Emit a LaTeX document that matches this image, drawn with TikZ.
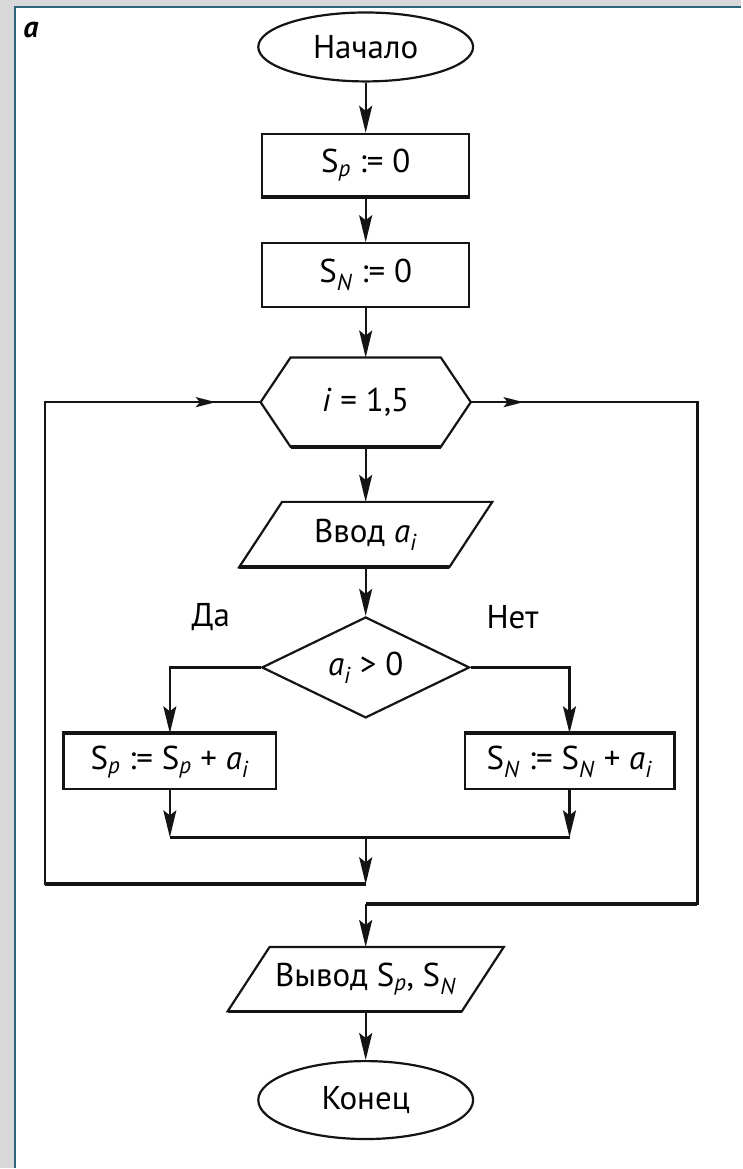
\documentclass[tikz,border=0pt]{standalone}
\usepackage{fontspec}
\setmainfont{PT Sans}
\usetikzlibrary{arrows.meta,shapes.geometric,calc}
\definecolor{ink}{HTML}{141414}
\definecolor{bggray}{HTML}{D9D9D9}
\definecolor{frameline}{HTML}{2F6578}
\newcommand\flowfont{\fontsize{33}{37}\selectfont}
\newcommand\sbs[1]{\textsubscript{\textit{#1}}}
\begin{document}
\begin{tikzpicture}[x=1pt,y=-1pt,
  line/.style={line width=2.2pt, draw=ink},
  heavy/.style={line width=3.6pt, draw=ink},
  arr/.style={line, -{Stealth[length=27pt,width=13pt,inset=5pt]}},
  sarr/.style={line, -{Stealth[length=20pt,width=10pt,inset=4pt]}},
  box/.style={draw=ink, line width=2.2pt, rectangle, inner sep=0pt,
    minimum width=207pt, minimum height=62pt, font=\flowfont},
  term/.style={draw=ink, line width=2.2pt, ellipse, inner sep=0pt,
    minimum width=215pt, minimum height=69pt, font=\flowfont},
  ghost/.style={rectangle, inner sep=0pt, font=\flowfont},
  dia/.style={draw=ink, line width=2.2pt, diamond, aspect=2, inner sep=0pt,
    minimum width=208pt, minimum height=101pt, font=\flowfont},
  lab/.style={font=\flowfont, inner sep=0pt}
]
% frame
\fill[bggray] (0,0) rectangle (742,1169);
\fill[white] (16,8) rectangle (742,1169);
\draw[frameline, line width=2pt] (15,1169) -- (15,7) -- (742,7);
\useasboundingbox (0,0) rectangle (742,1169);

\node[font=\fontsize{30}{32}\selectfont\bfseries\itshape, inner sep=0pt] (tag) at (31,30) {a};

% nodes
\node[term] (start) at (366,47) {Начало};
\node[box] (b1) at (366,165) {S\sbs{p} := 0};
\node[box, minimum height=64pt] (b2) at (366,275.5) {S\sbs{N} := 0};
\node[ghost, minimum width=210pt, minimum height=89pt] (hex) at (366,402.5) {\textit{i} = 1,5};
\node[ghost, minimum width=253pt, minimum height=65pt] (inp) at (366,535) {Ввод \textit{a}\sbs{i}};
\node[dia] (dec) at (366,668) {\textit{a}\sbs{i} > 0};
\node[box, minimum width=213pt, minimum height=55pt] (bp) at (170,762.5) {S\sbs{p} := S\sbs{p} + \textit{a}\sbs{i}};
\node[box, minimum width=210pt, minimum height=55pt] (bn) at (570,762.5) {S\sbs{N} := S\sbs{N} + \textit{a}\sbs{i}};
\node[ghost, minimum width=276pt, minimum height=64pt] (out) at (366,980) {Вывод S\sbs{p}, S\sbs{N}};
\node[term, minimum height=78pt] (end) at (366,1101) {Конец};

% hexagon outline
\draw[line] ($(hex.north west)+(30,0)$) -- ($(hex.north east)+(-30,0)$) -- (hex.east)
  -- ($(hex.south east)+(-30,0)$) -- ($(hex.south west)+(30,0)$) -- (hex.west) -- cycle;
\draw[heavy] ($(hex.south east)+(-30,0)$) -- ($(hex.south west)+(30,0)$);
% parallelograms
\draw[line] ($(inp.north west)+(43,0)$) -- (inp.north east) -- ($(inp.south east)+(-43,0)$)
  -- (inp.south west) -- cycle;
\draw[heavy] ($(inp.south east)+(-43,0)$) -- (inp.south west);
\draw[line] ($(out.north west)+(42,0)$) -- (out.north east) -- ($(out.south east)+(-42,0)$)
  -- (out.south west) -- cycle;
\draw[heavy] ($(out.south east)+(-42,0)$) -- (out.south west);
% heavier box edges
\draw[heavy] (b1.south west) -- (b1.south east);
\draw[heavy] (bp.north west) -- (bp.north east);
\draw[heavy] (bn.north west) -- (bn.north east);

% main connectors
\draw[arr] (start) -- (b1);
\draw[arr] (b1) -- (b2);
\draw[arr] (b2) -- (hex.north);
\draw[arr] (hex.south) -- (inp.north);
\draw[arr] (inp.south) -- (dec.north);
\draw[arr] (dec.west) -| (bp.north);
\draw[arr] (dec.east) -| (bn.north);
\node[lab] (yes) at (211,618) {Да};
\node[lab] (no) at (513,618) {Нет};

\coordinate (mg) at (366,838);
\draw[arr] (bp.south) -- (bp.south |- mg);
\draw[arr] (bn.south) -- (bn.south |- mg);
\draw[line, line width=2.8pt] (bp.south |- mg) -- (bn.south |- mg);

% loop back
\coordinate (lj) at (366,885);
\coordinate (lc) at (45,885);
\coordinate (la0) at (186,402.5);
\coordinate (la1) at (216,402.5);
\draw[arr] (mg) -- (lj);
\draw[line] (lj) -- (lc) -- (lc |- hex.west) -- (hex.west);
\draw[heavy] (lj) -- (lc);
\draw[sarr] (la0) -- (la1);

% exit
\coordinate (rc) at (698,905);
\coordinate (rj) at (366,905);
\coordinate (ra0) at (494,402.5);
\coordinate (ra1) at (524,402.5);
\draw[line] (hex.east) -- (hex.east -| rc) -- (rc) -- (rj);
\draw[heavy] (rc) -- (rj);
\draw[sarr] (ra0) -- (ra1);
\draw[arr] (rj) -- (out.north);
\draw[arr] (out.south) -- (end);
\end{tikzpicture}
\end{document}
